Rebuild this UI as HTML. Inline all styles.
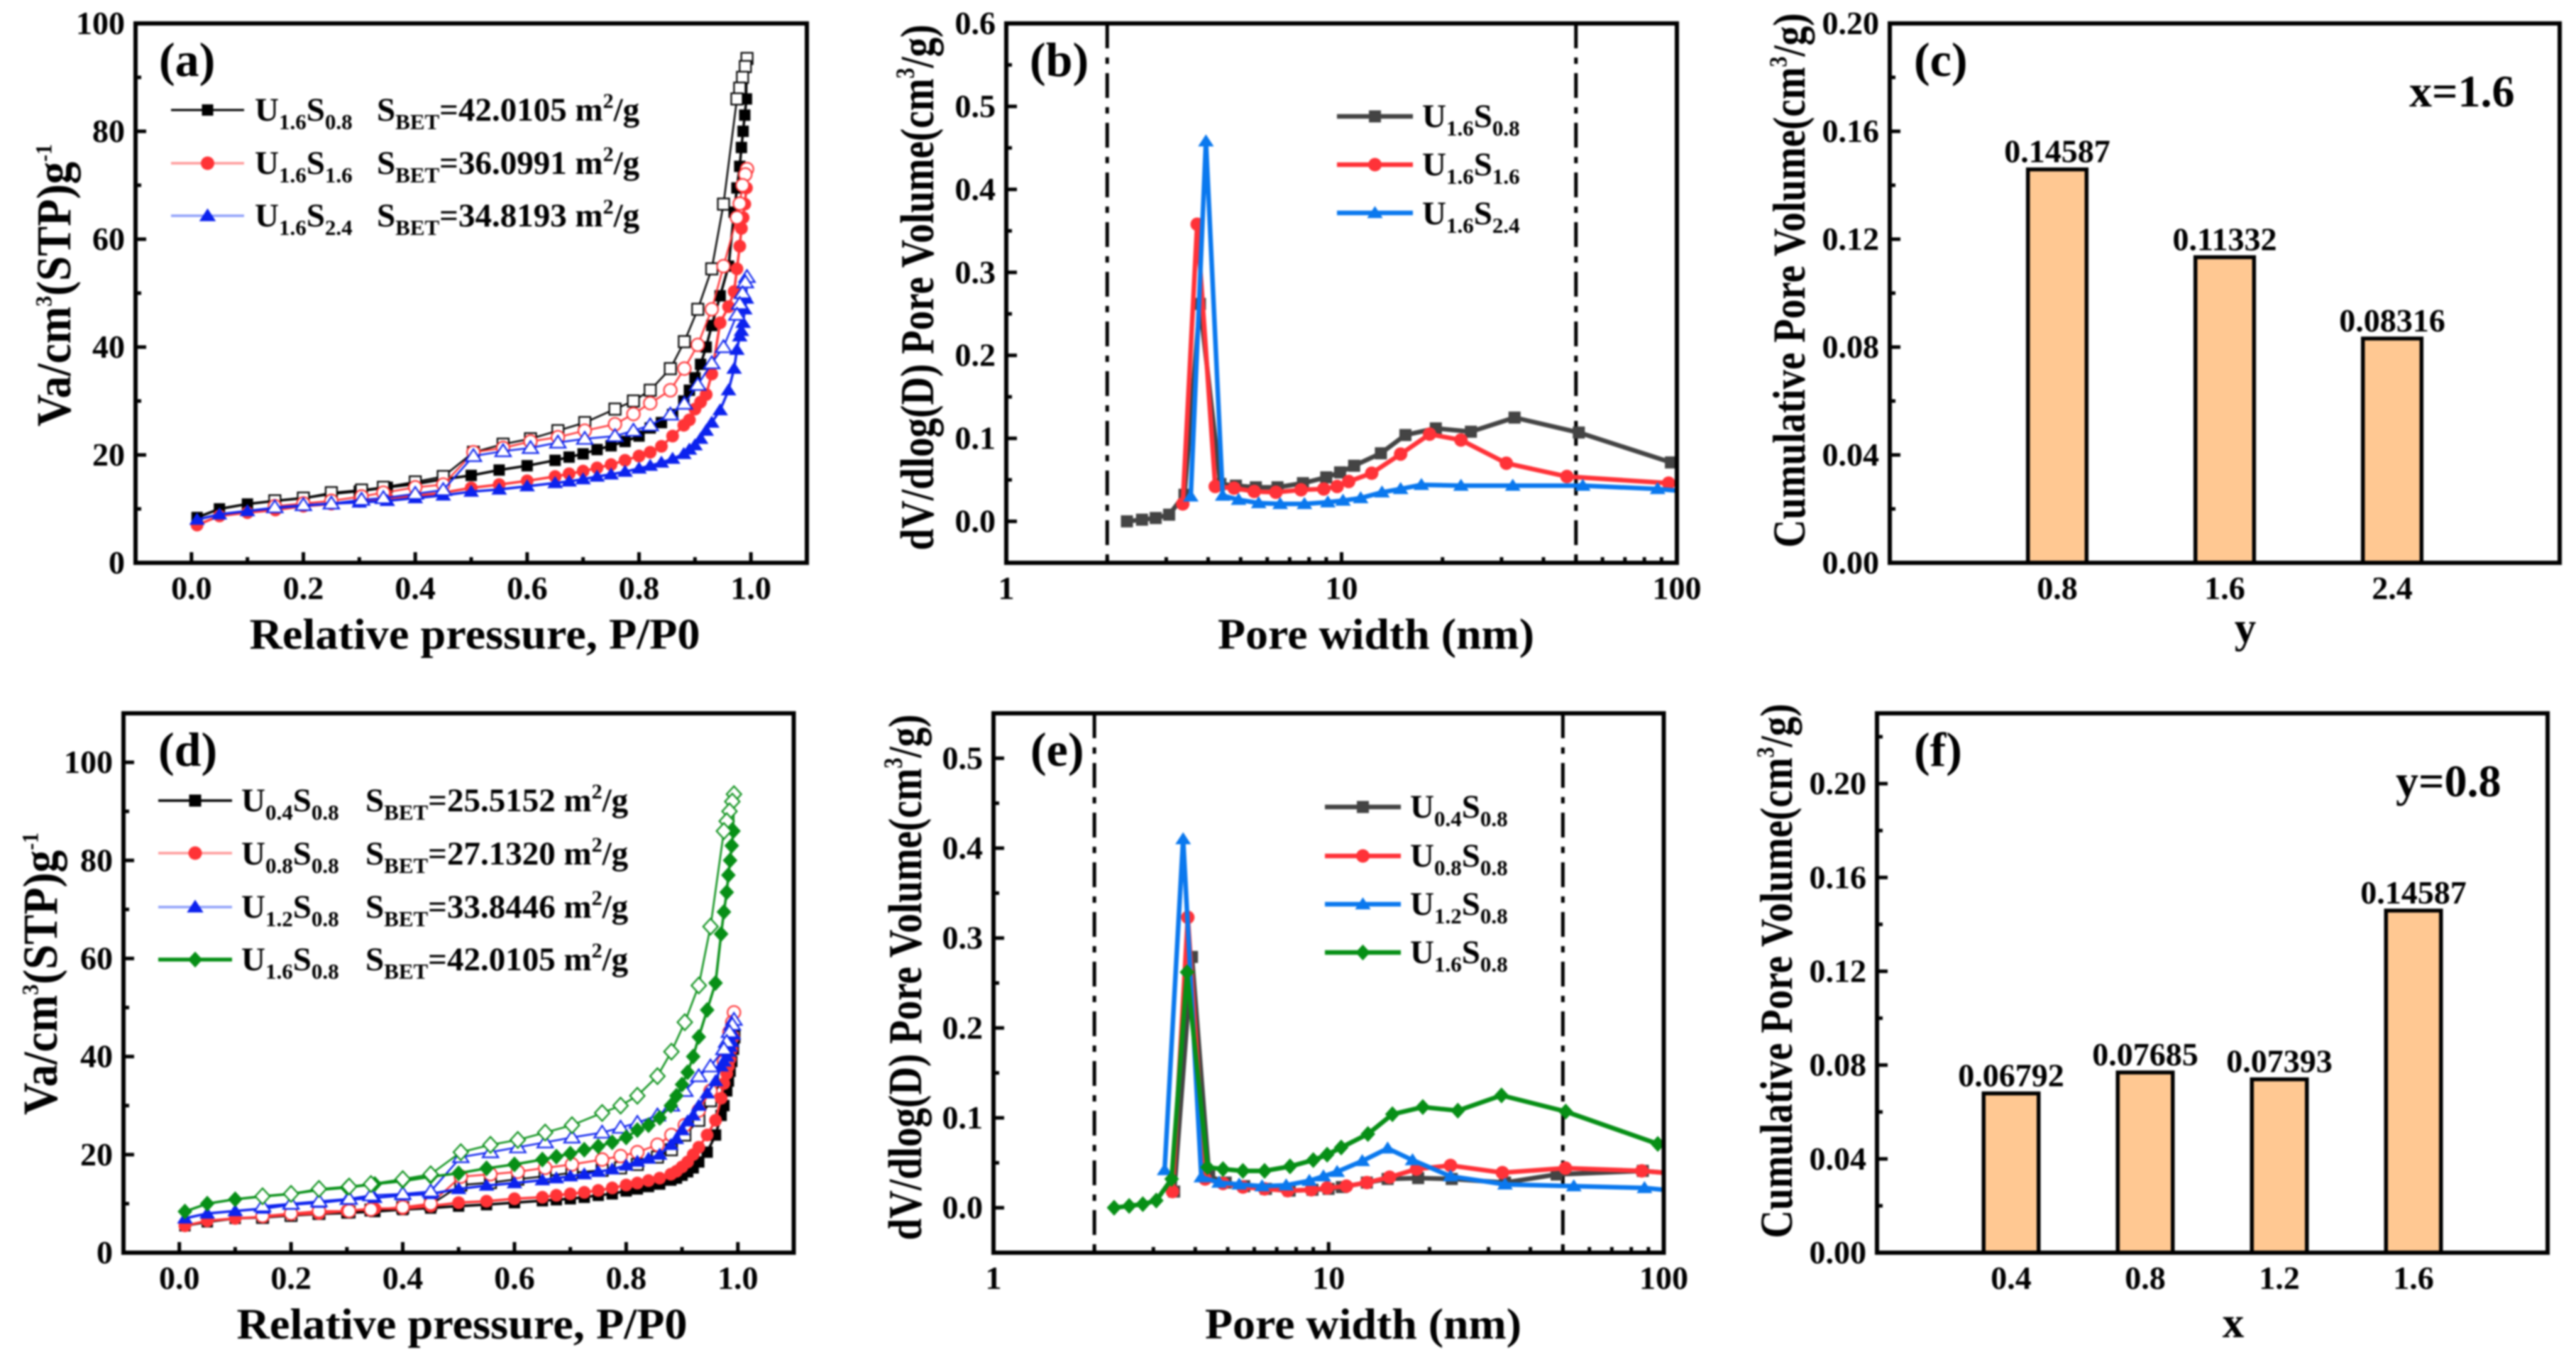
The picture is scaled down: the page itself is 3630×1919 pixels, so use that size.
<!DOCTYPE html>
<html lang="en">
<head>
<meta charset="utf-8">
<title>Pore structure charts</title>
<style>
html,body{margin:0;padding:0;background:#fff;width:3630px;height:1919px;overflow:hidden}
svg{display:block;filter:blur(1.3px)}
text{font-family:"Liberation Serif",serif;font-weight:bold;fill:#000}
.tick{font-size:46px}
.lab{font-size:68px}
.title{font-size:61px}
.ytitle{font-size:55px}
.ytitle2{font-size:63px}
.leg{font-size:47px}
.sub{font-size:31px}
.sup{font-size:30px}
.bv{font-size:46px}
.note{font-size:64px}
</style>
</head>
<body>
<svg id="root" xmlns="http://www.w3.org/2000/svg" width="3630" height="1919" viewBox="0 0 3630 1919">
<rect x="0" y="0" width="3630" height="1919" fill="#fff"/>

<!-- Panel letters -->
<text class="lab" x="224" y="107">(a)</text>
<text class="lab" x="1451" y="107">(b)</text>
<text class="lab" x="2697" y="107">(c)</text>
<text class="lab" x="223" y="1079">(d)</text>
<text class="lab" x="1452" y="1079">(e)</text>
<text class="lab" x="2697" y="1079">(f)</text>

<!-- Axis titles -->
<text class="title" x="669" y="914" text-anchor="middle" textLength="635" lengthAdjust="spacingAndGlyphs">Relative pressure, P/P0</text>
<text class="title" x="1939" y="914" text-anchor="middle" textLength="446" lengthAdjust="spacingAndGlyphs">Pore width (nm)</text>
<text class="title" x="3164" y="905" text-anchor="middle">y</text>
<text class="title" x="651" y="1886" text-anchor="middle" textLength="635" lengthAdjust="spacingAndGlyphs">Relative pressure, P/P0</text>
<text class="title" x="1921" y="1886" text-anchor="middle" textLength="446" lengthAdjust="spacingAndGlyphs">Pore width (nm)</text>
<text class="title" x="3147" y="1884" text-anchor="middle">x</text>

<text class="ytitle2" transform="translate(99,402) rotate(-90) scale(1,1.1)" text-anchor="middle">Va/cm<tspan class="sup" dy="-24">3</tspan><tspan dy="24">(STP)g</tspan><tspan class="sup" dy="-24">-1</tspan></text>
<text class="ytitle" transform="translate(1315,405) rotate(-90) scale(1,1.22)" text-anchor="middle">dV/dlog(D) Pore Volume(cm<tspan class="sup" dy="-22">3</tspan><tspan dy="22">/g)</tspan></text>
<text class="ytitle" transform="translate(2543,395) rotate(-90) scale(1,1.17)" text-anchor="middle">Cumulative Pore Volume(cm<tspan class="sup" dy="-22">3</tspan><tspan dy="22">/g)</tspan></text>
<text class="ytitle2" transform="translate(80,1372) rotate(-90) scale(1,1.1)" text-anchor="middle">Va/cm<tspan class="sup" dy="-24">3</tspan><tspan dy="24">(STP)g</tspan><tspan class="sup" dy="-24">-1</tspan></text>
<text class="ytitle" transform="translate(1298,1377) rotate(-90) scale(1,1.22)" text-anchor="middle">dV/dlog(D) Pore Volume(cm<tspan class="sup" dy="-22">3</tspan><tspan dy="22">/g)</tspan></text>
<text class="ytitle" transform="translate(2525,1368) rotate(-90) scale(1,1.17)" text-anchor="middle">Cumulative Pore Volume(cm<tspan class="sup" dy="-22">3</tspan><tspan dy="22">/g)</tspan></text>

<!-- Annotations -->
<text class="note" x="3395" y="150">x=1.6</text>
<text class="note" x="3376" y="1122">y=0.8</text>

<!-- Legend a -->
<g>
<text class="leg" x="359" y="170">U<tspan class="sub" dy="12">1.6</tspan><tspan dy="-12">S</tspan><tspan class="sub" dy="12">0.8</tspan></text>
<text class="leg" x="531" y="170">S<tspan class="sub" dy="12">BET</tspan><tspan dy="-12">=42.0105 m</tspan><tspan class="sup" dy="-18">2</tspan><tspan dy="18">/g</tspan></text>
<text class="leg" x="359" y="245">U<tspan class="sub" dy="12">1.6</tspan><tspan dy="-12">S</tspan><tspan class="sub" dy="12">1.6</tspan></text>
<text class="leg" x="531" y="245">S<tspan class="sub" dy="12">BET</tspan><tspan dy="-12">=36.0991 m</tspan><tspan class="sup" dy="-18">2</tspan><tspan dy="18">/g</tspan></text>
<text class="leg" x="359" y="319">U<tspan class="sub" dy="12">1.6</tspan><tspan dy="-12">S</tspan><tspan class="sub" dy="12">2.4</tspan></text>
<text class="leg" x="531" y="319">S<tspan class="sub" dy="12">BET</tspan><tspan dy="-12">=34.8193 m</tspan><tspan class="sup" dy="-18">2</tspan><tspan dy="18">/g</tspan></text>
</g>

<!-- Legend d -->
<g>
<text class="leg" x="340" y="1143">U<tspan class="sub" dy="12">0.4</tspan><tspan dy="-12">S</tspan><tspan class="sub" dy="12">0.8</tspan></text>
<text class="leg" x="515" y="1143">S<tspan class="sub" dy="12">BET</tspan><tspan dy="-12">=25.5152 m</tspan><tspan class="sup" dy="-18">2</tspan><tspan dy="18">/g</tspan></text>
<text class="leg" x="340" y="1218">U<tspan class="sub" dy="12">0.8</tspan><tspan dy="-12">S</tspan><tspan class="sub" dy="12">0.8</tspan></text>
<text class="leg" x="515" y="1218">S<tspan class="sub" dy="12">BET</tspan><tspan dy="-12">=27.1320 m</tspan><tspan class="sup" dy="-18">2</tspan><tspan dy="18">/g</tspan></text>
<text class="leg" x="340" y="1293">U<tspan class="sub" dy="12">1.2</tspan><tspan dy="-12">S</tspan><tspan class="sub" dy="12">0.8</tspan></text>
<text class="leg" x="515" y="1293">S<tspan class="sub" dy="12">BET</tspan><tspan dy="-12">=33.8446 m</tspan><tspan class="sup" dy="-18">2</tspan><tspan dy="18">/g</tspan></text>
<text class="leg" x="340" y="1367">U<tspan class="sub" dy="12">1.6</tspan><tspan dy="-12">S</tspan><tspan class="sub" dy="12">0.8</tspan></text>
<text class="leg" x="515" y="1367">S<tspan class="sub" dy="12">BET</tspan><tspan dy="-12">=42.0105 m</tspan><tspan class="sup" dy="-18">2</tspan><tspan dy="18">/g</tspan></text>
</g>

<!-- Legend b -->
<g>
<text class="leg" x="2004" y="179">U<tspan class="sub" dy="12">1.6</tspan><tspan dy="-12">S</tspan><tspan class="sub" dy="12">0.8</tspan></text>
<text class="leg" x="2004" y="247">U<tspan class="sub" dy="12">1.6</tspan><tspan dy="-12">S</tspan><tspan class="sub" dy="12">1.6</tspan></text>
<text class="leg" x="2004" y="316">U<tspan class="sub" dy="12">1.6</tspan><tspan dy="-12">S</tspan><tspan class="sub" dy="12">2.4</tspan></text>
</g>

<!-- Legend e -->
<g>
<text class="leg" x="1987" y="1152">U<tspan class="sub" dy="12">0.4</tspan><tspan dy="-12">S</tspan><tspan class="sub" dy="12">0.8</tspan></text>
<text class="leg" x="1987" y="1221">U<tspan class="sub" dy="12">0.8</tspan><tspan dy="-12">S</tspan><tspan class="sub" dy="12">0.8</tspan></text>
<text class="leg" x="1987" y="1289">U<tspan class="sub" dy="12">1.2</tspan><tspan dy="-12">S</tspan><tspan class="sub" dy="12">0.8</tspan></text>
<text class="leg" x="1987" y="1357">U<tspan class="sub" dy="12">1.6</tspan><tspan dy="-12">S</tspan><tspan class="sub" dy="12">0.8</tspan></text>
</g>
</svg>

<script>
/* ---------- Isotherm data (relative pressure, Va) ---------- */
const pAds = [.01,.05,.1,.15,.2,.25,.3,.35,.4,.45,.5,.55,.6,.65,.675,.7,.725,.75,.775,.8,.82,.84,.86,.88,.89,.9,.91,.92,.93,.945,.96,.97,.975,.98,.983,.986,.989,.992];
const pDes = [.993,.99,.985,.98,.975,.951,.93,.905,.881,.856,.82,.79,.757,.703,.655,.606,.557,.504,.45,.40,.343,.304,.25,.2,.149];

const u16s08Ads = [8.4,10,10.9,11.5,12,12.8,13.3,14,14.6,15.5,16.2,17.2,18,19,19.6,20.2,21,21.7,22.5,23.5,25,26,27.5,30,32,34.3,36.8,40,44,49.5,55,65,69.5,73.5,77,80,83,86];
const u16s08Des = [93.5,92,90,88,86,66.5,54.5,47,41,36,32,30,28.5,26,24.5,23,22,20.5,16,15,14,13.5,13,12,11.5];
const u16s16Ads = [7,8.7,9.3,9.8,10.5,10.9,11.4,12,12.4,13,13.9,14.5,15.2,16,16.5,17,17.6,18.2,19,19.8,20.5,21.6,23.5,25.5,26.5,28.5,29.8,31.2,35,44.5,47.5,50.3,54.5,58.7,62,64,66.5,69.5];
const u16s16Des = [73,72,70,66.6,64,55,47,40.4,36,32,29.6,27.6,25.7,24.5,23.3,22.5,21.3,20.5,14.5,14,13,12.3,11.5,11,10.5];
const u16s24Ads = [8,9,9.6,10.2,10.6,11,11.2,11.5,12,12.5,13.2,13.6,14.2,14.8,15.1,15.5,16,16.4,16.9,17.5,18,18.6,19.3,20.2,21,21.8,23,24.5,26,28.3,32,36,39.5,42,43,44.5,47,49];
const u16s24Des = [53,52,50,48,46,40,37,33,29.5,27.5,25.5,24.5,23.5,23,22.3,21.3,20.7,19.8,13.5,12.8,12,11.7,11,10.7,10.3];

const u04s08Ads = [5.5,6.3,7,7.2,7.6,7.9,8.1,8.4,8.8,9.1,9.5,9.8,10.2,10.6,10.8,11,11.3,11.7,12,12.6,13,13.5,14,14.8,15.2,15.8,16.5,17.3,18.5,20.5,24,28,30,33,35,37,39,41.5];
const u04s08Des = [44,43,41,38,36,31,27,24,21,19.5,18,17.3,16.8,16.3,15.6,15,14.3,13.8,9.8,9.2,8.7,8.3,8,7.6,7.2];
const u08s08Ads = [5.5,6.5,7,7.3,7.8,8,8.5,9,9,9.5,10.2,10.5,11,11.3,11.7,12,12.3,12.7,13.2,13.8,14.2,14.7,15.2,16,16.6,17.5,18.5,20,21.5,24,27,31.5,34.5,36.5,38,39.5,41.5,44];
const u08s08Des = [49,47,45,42,39,33,29,26,24,22,20.5,19.7,19,18,17.3,16.5,16,15.5,10,9.3,8.8,8.5,8.5,8,7.5];
const u12s08Ads = [7,8,8.5,9,9.8,10.2,10.8,11.2,11.7,12,13,13.7,14.2,14.8,15.2,15.6,16,16.5,17,17.8,18.6,19.2,20,22,23.2,25,26.8,28,30,32.5,35,38,39,40,41,42,43,44.5];
const u12s08Des = [47.5,46.5,45,43,41.5,38,36,33,30,28,26.5,25.5,24.5,23.5,22.5,21.5,20.5,19.5,12.5,12,11.7,11,10.5,10,9.5];

/* ---------- Pore distribution data (pore width, dV/dlogD) ---------- */
const psdU16S08X = [2.29,2.54,2.79,3.06,3.4,3.78,4.35,4.84,5.55,6.44,7.67,9.0,9.9,10.9,13.1,15.5,19.1,24.3,32.8,51,96];
const psdU16S08Y = [0,.002,.004,.008,.032,.262,.045,.043,.041,.041,.046,.053,.059,.067,.082,.104,.112,.108,.125,.107,.071];
const psdU16S16X = [3.36,3.71,4.2,4.78,5.49,6.37,7.57,8.85,9.7,10.5,12.3,15,18.3,22.7,31,47,94.5];
const psdU16S16Y = [.021,.358,.042,.04,.036,.035,.038,.039,.042,.048,.058,.081,.105,.098,.07,.054,.046];
const psdU16S24X = [3.55,3.94,4.42,4.93,5.66,6.56,7.75,9.1,10.1,11.4,13.2,15,17.3,22.7,32.4,52.4,87.6];
const psdU16S24Y = [.03,.458,.031,.026,.022,.021,.021,.023,.025,.028,.035,.039,.044,.043,.043,.043,.039];

const psdU04S08X = [3.46,3.91,4.4,4.93,5.6,6.5,7.65,8.95,10,10.95,13,15,18.5,23.3,33.6,47.9,86.6];
const psdU04S08Y = [.018,.279,.035,.028,.024,.021,.019,.02,.021,.023,.028,.032,.033,.032,.028,.037,.041];
const psdU08S08X = [3.42,3.8,4.28,4.84,5.55,6.44,7.55,8.88,9.9,11.3,13,15.2,18.3,23.1,33,50.9,86];
const psdU08S08Y = [.018,.323,.032,.027,.023,.021,.019,.02,.022,.024,.028,.034,.043,.047,.039,.044,.041];
const psdU12S08X = [3.24,3.68,4.17,4.71,5.41,6.33,7.47,8.76,9.65,10.6,12.6,15,17.8,23.1,33.6,53.9,87.6];
const psdU12S08Y = [.042,.41,.034,.028,.026,.024,.025,.03,.035,.04,.052,.066,.053,.035,.026,.024,.022];

/* ---------- Bar data ---------- */
const barCatC = ['0.8','1.6','2.4'];
const barValC = [0.14587,0.11332,0.08316];
const barCatF = ['0.4','0.8','1.2','1.6'];
const barValF = [0.06792,0.07685,0.07393,0.14587];

/* ---------- Tick labels ---------- */
const isoXTicks = ['0.0','0.2','0.4','0.6','0.8','1.0'];
const isoYTicksA = ['0','20','40','60','80','100'];
const isoYTicksD = ['0','20','40','60','80','100'];
const logXTicks = ['1','10','100'];
const psdYTicksB = ['0.0','0.1','0.2','0.3','0.4','0.5','0.6'];
const psdYTicksE = ['0.0','0.1','0.2','0.3','0.4','0.5'];
const barYTicksC = ['0.00','0.04','0.08','0.12','0.16','0.20'];
const barYTicksF = ['0.00','0.04','0.08','0.12','0.16','0.20'];
const guideLines = [2,50];

/* ---------- Layout (not data) ---------- */
const SVGNS = 'http://www.w3.org/2000/svg';
const root = document.getElementById('root');
const frames = {
  a:{L:191,R:1137,T:33,B:793,x0:-0.1,x1:1.1,y0:0,y1:100},
  b:{L:1418,R:2363,T:33,B:793,x0:1,x1:100,y0:-0.05,y1:0.6,log:true},
  c:{L:2663,R:3607,T:33,B:793,x0:0,x1:4,y0:0,y1:0.2},
  d:{L:174,R:1118.5,T:1005,B:1765,x0:-0.1,x1:1.1,y0:0,y1:110},
  e:{L:1400,R:2344.5,T:1005,B:1765,x0:1,x1:100,y0:-0.05,y1:0.55,log:true},
  f:{L:2645,R:3590,T:1005,B:1765,x0:0,x1:5,y0:0,y1:0.23}
};
const COL = {black:'#000',red:'#ff3336',blue:'#0c22ee',gray:'#444',red2:'#ff3238',blue2:'#0a78ee',green:'#078f16'};

function mk(tag, parent, attrs){
  const n = document.createElementNS(SVGNS, tag);
  for (const k in attrs) n.setAttribute(k, attrs[k]);
  parent.appendChild(n);
  return n;
}
function sx(f, v){
  const t = f.log ? (Math.log10(v)-Math.log10(f.x0))/(Math.log10(f.x1)-Math.log10(f.x0)) : (v-f.x0)/(f.x1-f.x0);
  return f.L + t*(f.R-f.L);
}
function sy(f, v){ return f.B - (v-f.y0)/(f.y1-f.y0)*(f.B-f.T); }

function marker(parent, shape, x, y, r, color, open, sw){
  const fill = open ? '#fff' : color;
  const st = open ? color : 'none';
  const w = open ? sw : 0;
  let n;
  if (shape === 'square') n = mk('rect', parent, {x:x-r,y:y-r,width:2*r,height:2*r,fill:fill,stroke:st,'stroke-width':w});
  else if (shape === 'circle') n = mk('circle', parent, {cx:x,cy:y,r:r,fill:fill,stroke:st,'stroke-width':w});
  else if (shape === 'triangle') n = mk('polygon', parent, {points:[x,y-r*1.15,x+r*1.3,y+r*0.85,x-r*1.3,y+r*0.85].join(' '),fill:fill,stroke:st,'stroke-width':w});
  else n = mk('polygon', parent, {points:[x,y-r*1.25,x+r*1.15,y,x,y+r*1.25,x-r*1.15,y].join(' '),fill:fill,stroke:st,'stroke-width':w});
  return n;
}

function axisTick(g, x1, y1, x2, y2, w){
  const t = mk('line', g, {x1:x1,y1:y1,x2:x2,y2:y2,stroke:'#000','stroke-width':w});
  
  
}
function tickText(g, x, y, anchor, s){
  const t = mk('text', g, {x:x,y:y,'text-anchor':anchor,class:'tick'});
  t.textContent = s;
  
  
}

function drawYAxis(id, f, labels, minorStep){
  const g = mk('g', root, {});
  
  
  labels.forEach(function(s){
    const v = +s, y = sy(f, v);
    axisTick(g, f.L, y, f.L+15, y, 5);
    tickText(g, f.L-15, y+15, 'end', s);
  });
  for (let v = f.y0; v <= f.y1+1e-9; v += minorStep){
    const isMajor = labels.some(function(s){ return Math.abs(+s-v) < 1e-9; });
    if (!isMajor) axisTick(g, f.L, sy(f,v), f.L+8, sy(f,v), 5);
  }
}
function drawLinXAxis(id, f, labels){
  const g = mk('g', root, {});
  
  
  labels.forEach(function(s, i){
    const v = +s, x = sx(f, v);
    axisTick(g, x, f.B, x, f.B-15, 5);
    tickText(g, x, f.B+51, 'middle', s);
    if (i < labels.length-1){
      const mx = sx(f, (v + +labels[i+1])/2);
      axisTick(g, mx, f.B, mx, f.B-8, 5);
    }
  });
}
function drawLogXAxis(id, f, labels){
  const g = mk('g', root, {});
  
  
  labels.forEach(function(s, i){
    const v = +s, x = sx(f, v);
    axisTick(g, x, f.B, x, f.B-15, 5);
    tickText(g, x, f.B+51, 'middle', s);
    if (i < labels.length-1){
      for (let m = 2; m < 10; m++){
        const mx = sx(f, v*m);
        axisTick(g, mx, f.B, mx, f.B-8, 5);
      }
    }
  });
}
function drawCatXAxis(id, f, labels){
  const g = mk('g', root, {});
  
  
  labels.forEach(function(s, i){
    tickText(g, sx(f, i+1), f.B+51, 'middle', s);
  });
}
function drawFrame(id, f){
  const r = mk('rect', root, {x:f.L,y:f.T,width:f.R-f.L,height:f.B-f.T,fill:'none',stroke:'#000','stroke-width':6});
  
  
}
function clipFor(id, f){
  const c = mk('clipPath', root, {id:'clip-'+id});
  mk('rect', c, {x:f.L,y:f.T,width:f.R-f.L,height:f.B-f.T});
  return 'url(#clip-'+id+')';
}

function drawIsotherm(id, f, name, ads, des, shape, color, r){
  const g = mk('g', root, {});
  
  
  const adsPts = pAds.map(function(p,i){ return sx(f,p)+','+sy(f,ads[i]); });
  const desPts = pDes.map(function(p,i){ return sx(f,p)+','+sy(f,des[i]); });
  const line1 = mk('polyline', g, {points:adsPts.join(' '),fill:'none',stroke:color,'stroke-width':3.5});
  
  
  const line2 = mk('polyline', g, {points:adsPts.slice(-1).concat(desPts).join(' '),fill:'none',stroke:color,'stroke-width':2.5});
  
  
  pAds.forEach(function(p,i){
    const m = marker(g, shape, sx(f,p), sy(f,ads[i]), r, color, false, 0);
    
    
  });
  pDes.forEach(function(p,i){
    const m = marker(g, shape, sx(f,p), sy(f,des[i]), r, color, true, 2.2);
    
    
  });
}
function drawPsd(id, f, name, xs, ys, shape, color, r, clip){
  const g = mk('g', root, {'clip-path':clip});
  
  
  const pts = xs.map(function(x,i){ return sx(f,x)+','+sy(f,ys[i]); });
  const tail = ys[ys.length-1];
  pts.push(sx(f,100)+','+sy(f,tail-0.002));
  const line = mk('polyline', g, {points:pts.join(' '),fill:'none',stroke:color,'stroke-width':6.5});
  
  
  xs.forEach(function(x,i){
    const m = marker(g, shape, sx(f,x), sy(f,ys[i]), r, color, false, 0);
    
    
  });
}
function drawGuides(id, f){
  guideLines.forEach(function(v){
    const l = mk('line', root, {x1:sx(f,v),y1:f.T,x2:sx(f,v),y2:f.B,stroke:'#000','stroke-width':5,'stroke-dasharray':'35 13 9 13'});
    
    
  });
}
function drawBars(id, f, cats, vals, barW){
  const g = mk('g', root, {});
  
  
  vals.forEach(function(v,i){
    const cx = sx(f, i+1), w = barW*(f.R-f.L)/(f.x1-f.x0);
    const b = mk('rect', g, {x:cx-w/2,y:sy(f,v),width:w,height:f.B-sy(f,v),fill:'#ffc892',stroke:'#000','stroke-width':5.5});
    
    
    const t = mk('text', g, {x:cx,y:sy(f,v)-10,'text-anchor':'middle',class:'bv'});
    t.textContent = v.toFixed(5);
    
    
  });
}
function legendKey(id, x1, x2, y, shape, color, r, sw, lineColor){
  const g = mk('g', root, {});
  
  
  mk('line', g, {x1:x1,y1:y,x2:x2,y2:y,stroke:lineColor || color,'stroke-width':sw});
  marker(g, shape, (x1+x2)/2, y, r, color, false, 0);
}

/* ---------- Panel a ---------- */
drawIsotherm('a', frames.a, 'u16s08', u16s08Ads, u16s08Des, 'square', COL.black, 8);
drawIsotherm('a', frames.a, 'u16s16', u16s16Ads, u16s16Des, 'circle', COL.red, 9);
drawIsotherm('a', frames.a, 'u16s24', u16s24Ads, u16s24Des, 'triangle', COL.blue, 8.5);
drawYAxis('a', frames.a, isoYTicksA, 10);
drawLinXAxis('a', frames.a, isoXTicks);
drawFrame('a', frames.a);
legendKey('legend-a-1', 241, 344, 155, 'square', COL.black, 8, 3);
legendKey('legend-a-2', 241, 344, 230, 'circle', COL.red, 9.5, 3.5, '#ff9a9a');
legendKey('legend-a-3', 241, 344, 304, 'triangle', COL.blue, 9, 3.5, '#8fa0fa');

/* ---------- Panel b ---------- */
const clipB = clipFor('b', frames.b);
drawGuides('b', frames.b);
drawPsd('b', frames.b, 'u16s08', psdU16S08X, psdU16S08Y, 'square', COL.gray, 8.5, clipB);
drawPsd('b', frames.b, 'u16s16', psdU16S16X, psdU16S16Y, 'circle', COL.red2, 9.5, clipB);
drawPsd('b', frames.b, 'u16s24', psdU16S24X, psdU16S24Y, 'triangle', COL.blue2, 8.5, clipB);
drawYAxis('b', frames.b, psdYTicksB, 0.05);
drawLogXAxis('b', frames.b, logXTicks);
drawFrame('b', frames.b);
legendKey('legend-b-1', 1884, 1991, 164, 'square', COL.gray, 8.5, 6.5);
legendKey('legend-b-2', 1884, 1991, 232, 'circle', COL.red2, 9.5, 6.5);
legendKey('legend-b-3', 1884, 1991, 300, 'triangle', COL.blue2, 8.5, 6.5);

/* ---------- Panel c ---------- */
drawBars('c', frames.c, barCatC, barValC, 0.35);
drawYAxis('c', frames.c, barYTicksC, 0.02);
drawCatXAxis('c', frames.c, barCatC);
drawFrame('c', frames.c);

/* ---------- Panel d ---------- */
drawIsotherm('d', frames.d, 'u04s08', u04s08Ads, u04s08Des, 'square', COL.black, 8);
drawIsotherm('d', frames.d, 'u08s08', u08s08Ads, u08s08Des, 'circle', COL.red, 9);
drawIsotherm('d', frames.d, 'u12s08', u12s08Ads, u12s08Des, 'triangle', COL.blue, 8.5);
drawIsotherm('d', frames.d, 'u16s08', u16s08Ads, u16s08Des, 'diamond', COL.green, 9);
drawYAxis('d', frames.d, isoYTicksD, 10);
drawLinXAxis('d', frames.d, isoXTicks);
drawFrame('d', frames.d);
legendKey('legend-d-1', 223, 327, 1128, 'square', COL.black, 8.5, 3.5);
legendKey('legend-d-2', 223, 327, 1202, 'circle', COL.red, 9.5, 3.5, '#ff9a9a');
legendKey('legend-d-3', 223, 327, 1278, 'triangle', COL.blue, 9, 3.5, '#8fa0fa');
legendKey('legend-d-4', 223, 327, 1352, 'diamond', COL.green, 9, 5.5);

/* ---------- Panel e ---------- */
const clipE = clipFor('e', frames.e);
drawGuides('e', frames.e);
drawPsd('e', frames.e, 'u04s08', psdU04S08X, psdU04S08Y, 'square', COL.gray, 8.5, clipE);
drawPsd('e', frames.e, 'u08s08', psdU08S08X, psdU08S08Y, 'circle', COL.red2, 9.5, clipE);
drawPsd('e', frames.e, 'u12s08', psdU12S08X, psdU12S08Y, 'triangle', COL.blue2, 8.5, clipE);
drawPsd('e', frames.e, 'u16s08', psdU16S08X, psdU16S08Y, 'diamond', COL.green, 9, clipE);
drawYAxis('e', frames.e, psdYTicksE, 0.05);
drawLogXAxis('e', frames.e, logXTicks);
drawFrame('e', frames.e);
legendKey('legend-e-1', 1867, 1974, 1137, 'square', COL.gray, 8.5, 6.5);
legendKey('legend-e-2', 1867, 1974, 1206, 'circle', COL.red2, 9.5, 6.5);
legendKey('legend-e-3', 1867, 1974, 1274, 'triangle', COL.blue2, 8.5, 6.5);
legendKey('legend-e-4', 1867, 1974, 1342, 'diamond', COL.green, 9, 6.5);

/* ---------- Panel f ---------- */
drawBars('f', frames.f, barCatF, barValF, 0.41);
drawYAxis('f', frames.f, barYTicksF, 0.02);
drawCatXAxis('f', frames.f, barCatF);
drawFrame('f', frames.f);
</script>
</body>
</html>
